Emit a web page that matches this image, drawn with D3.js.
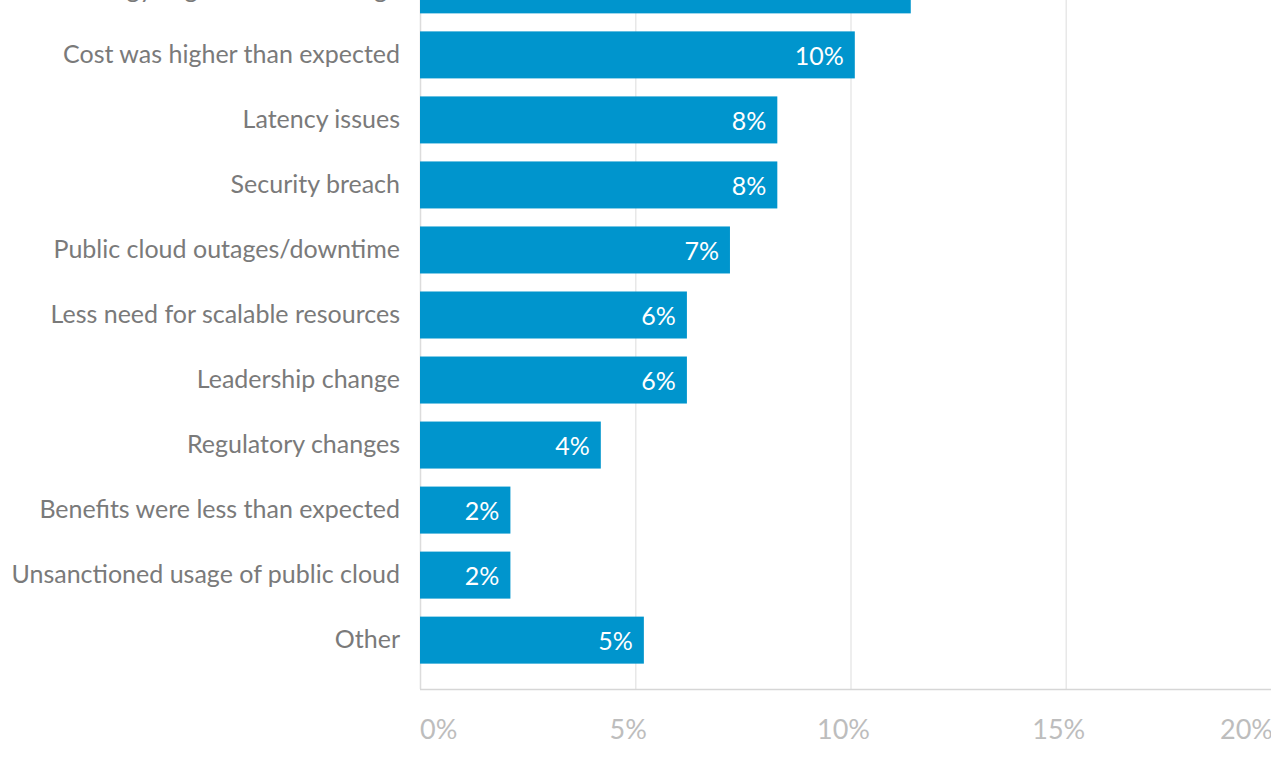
<!DOCTYPE html>
<html>
<head>
<meta charset="utf-8">
<script src="https://cdn.jsdelivr.net/npm/d3@7"></script>
<style>
  html, body { margin: 0; padding: 0; background: #fff; overflow: hidden; }
  svg { display: block; font-family: Lato, "Open Sans", sans-serif; }
</style>
</head>
<body>
<div class="chart"></div>
<script>
// categories, top to bottom (first one is cut off by the frame)
const reasons = [
    "Strategy/organizational change",
    "Cost was higher than expected",
    "Latency issues",
    "Security breach",
    "Public cloud outages/downtime",
    "Less need for scalable resources",
    "Leadership change",
    "Regulatory changes",
    "Benefits were less than expected",
    "Unsanctioned usage of public cloud",
    "Other"
];

// share of respondents, %
const shares = [11.4, 10.1, 8.3, 8.3, 7.2, 6.2, 6.2, 4.2, 2.1, 2.1, 5.2];

// x axis ticks
const xTicks = [0, 5, 10, 15, 20];

const data = reasons.map((r, i) => ({ name: r, value: shares[i] }));

const width = 1271, height = 762;
const left = 420, bottom = 689;

const svg = d3.select(".chart")
    .append("svg")
    .attr("width", width)
    .attr("height", height);

const x = d3.scaleLinear()
    .domain([0, 20])
    .range([left, 1281]);

const y = d3.scaleBand()
    .domain(reasons)
    .range([-59, bottom])
    .paddingInner(0.277)
    .paddingOuter(0.39);

// grid lines
svg.append("g")
    .selectAll("line")
    .data(xTicks)
    .enter().append("line")
    .attr("x1", d => x(d) + 0.5)
    .attr("x2", d => x(d) + 0.5)
    .attr("y1", 0)
    .attr("y2", bottom)
    .attr("stroke", d => d === 0 ? "#dcdcdc" : "#e8e8e8")
    .attr("stroke-width", 1.5);

// bottom axis line
svg.append("line")
    .attr("x1", left)
    .attr("x2", width)
    .attr("y1", bottom + 0.5)
    .attr("y2", bottom + 0.5)
    .attr("stroke", "#d6d6d6")
    .attr("stroke-width", 1.5);

// tick labels (first left-aligned, last right-aligned against the frame)
const last = xTicks.length - 1;
svg.append("g")
    .selectAll("text")
    .data(xTicks)
    .enter().append("text")
    .attr("x", (d, i) => i === 0 ? x(d) : i === last ? width + 2 : x(d) - 7)
    .attr("y", 739)
    .attr("text-anchor", (d, i) => i === 0 ? "start" : i === last ? "end" : "middle")
    .style("font-size", "27px")
    .style("fill", "#bdbdbd")
    .text(d => d + "%");

// bars
svg.append("g")
    .selectAll("rect")
    .data(data)
    .enter().append("rect")
    .attr("x", x(0))
    .attr("y", d => y(d.name))
    .attr("width", d => x(d.value) - x(0))
    .attr("height", y.bandwidth())
    .attr("fill", "#0095cd");

// value labels inside bars
svg.append("g")
    .selectAll("text")
    .data(data)
    .enter().append("text")
    .attr("x", d => x(d.value) - 11)
    .attr("y", d => y(d.name) + y.bandwidth() / 2 + 10)
    .attr("text-anchor", "end")
    .style("font-size", "25px")
    .style("fill", "#fff")
    .text(d => Math.round(d.value) + "%");

// category labels
svg.append("g")
    .selectAll("text")
    .data(data)
    .enter().append("text")
    .attr("x", 400)
    .attr("y", d => y(d.name) + y.bandwidth() / 2 + 8)
    .attr("text-anchor", "end")
    .style("font-size", "25px")
    .style("fill", "#7a7a7a")
    .text(d => d.name);
</script>
</body>
</html>
